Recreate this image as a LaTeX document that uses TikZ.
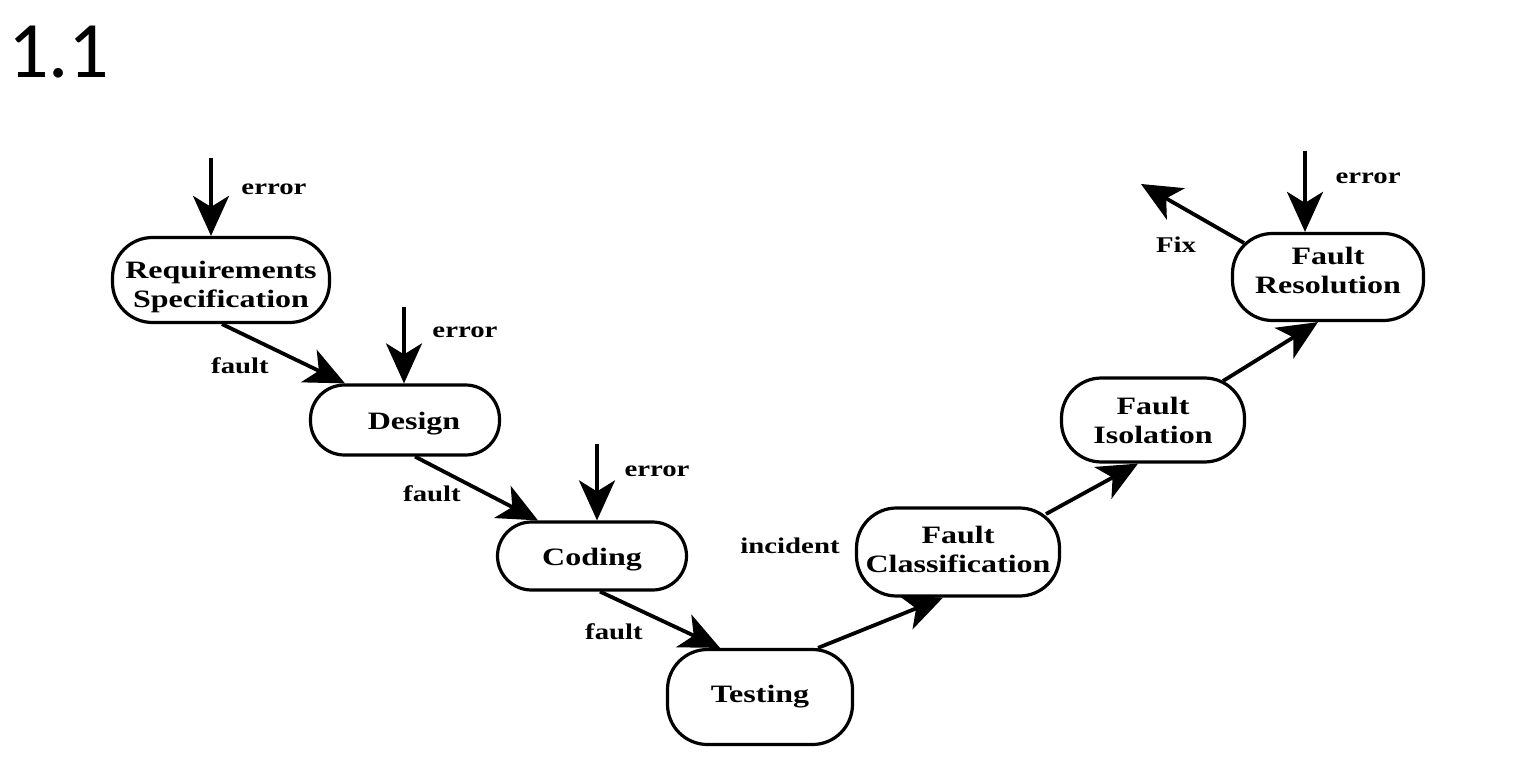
\documentclass[tikz,border=0pt]{standalone}
\usepackage{fontspec}
\usetikzlibrary{arrows.meta}
\newfontfamily\diafont{Liberation Serif}[FakeStretch=1.28]
\newfontfamily\titlefont{Carlito}
\newcommand\txtdown[1]{\rule{0pt}{#1}}
\newcommand\txtup[1]{\rule[-#1]{0pt}{0pt}}
\begin{document}
\begin{tikzpicture}[x=1pt,y=-1pt,
  stage/.style={draw, line width=3.2pt, rounded corners=34pt, align=center, inner sep=0pt,
    font=\diafont\bfseries\fontsize{25}{29}\selectfont},
  tall/.style={rounded corners=40pt},
  lbl/.style={inner sep=0pt, font=\diafont\bfseries\fontsize{22.5}{26}\selectfont},
  flow/.style={line width=3.8pt, -{Stealth[length=40pt,width=36pt,inset=11pt]}},
]
\useasboundingbox (0,0) rectangle (1521,778);
\node[anchor=base west, inner sep=0pt, font=\titlefont\fontsize{80}{90}\selectfont] (title) at (8,78) {1.1};

\node[stage, tall, minimum width=217pt, minimum height=85pt] (rs) at (221,280) {\txtdown{32pt}Requirements\\Specification};
\node[stage, minimum width=189pt, minimum height=70pt] (design) at (405,420) {\txtdown{25pt}\hspace*{18pt}Design};
\node[stage, minimum width=189pt, minimum height=68pt] (coding) at (592,556) {\txtdown{25pt}Coding};
\node[stage, tall, minimum width=185pt, minimum height=95pt] (testing) at (760,697) {Testing};
\node[stage, tall, minimum width=203pt, minimum height=88pt] (fc) at (958,552) {Fault\\Classification\txtup{6pt}};
\node[stage, tall, minimum width=183pt, minimum height=84pt] (fi) at (1153,420) {Fault\\Isolation};
\node[stage, tall, minimum width=191pt, minimum height=87pt] (fr) at (1328,277) {Fault\\Resolution\txtup{14pt}};

\coordinate (e1) at (211,158);
\coordinate (e2) at (404,307);
\coordinate (e3) at (597,444);
\coordinate (e4) at (1305,151);
\coordinate (fixend) at (1141,184);

\draw[flow] (e1) -- ([xshift=-10pt]rs.north);
\draw[flow] (e2) -- ([xshift=-1pt]design.north);
\draw[flow] (e3) -- ([xshift=5pt]coding.north);
\draw[flow] (e4) -- ([xshift=-23pt]fr.north);

\draw[flow] ([xshift=1pt]rs.south) -- ([xshift=-60pt]design.north);
\draw[flow] ([xshift=10pt]design.south) -- ([xshift=-54pt]coding.north);
\draw[flow] ([xshift=8pt]coding.south) -- ([xshift=-40pt]testing.north);
\draw[flow] ([xshift=58pt]testing.north) -- ([xshift=-15pt]fc.south);
\draw[flow] ([shift={(88,-38)}]fc.center) -- ([xshift=-15pt]fi.south);
\draw[flow] ([shift={(70,-39)}]fi.center) -- ([xshift=-10pt]fr.south);
\draw[flow] ([shift={(-84,-34)}]fr.center) -- (fixend);

\node[lbl] (l1) at (274,189) {error};
\node[lbl] (l2) at (240,366) {fault};
\node[lbl] (l3) at (465,332) {error};
\node[lbl] (l4) at (432,494) {fault};
\node[lbl] (l5) at (657,471) {error};
\node[lbl] (l6) at (614,632) {fault};
\node[lbl] (l7) at (790,546) {incident};
\node[lbl] (l8) at (1368,178) {error};
\node[lbl] (l9) at (1176,245) {Fix};
\end{tikzpicture}
\end{document}
